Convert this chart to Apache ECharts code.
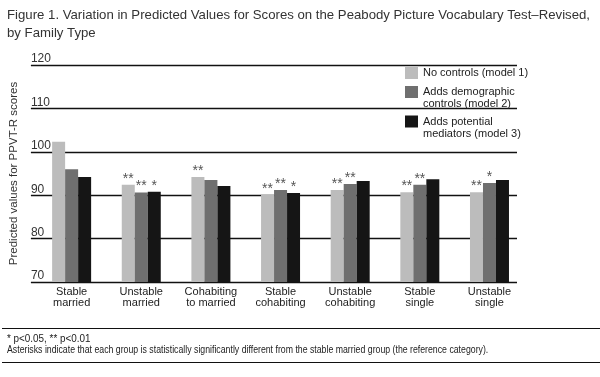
<!DOCTYPE html>
<html>
<head>
<meta charset="utf-8">
<script src="https://cdn.jsdelivr.net/npm/echarts@6/dist/echarts.min.js"></script>
<style>
  html, body { margin: 0; padding: 0; background: #fff; }
  #chart { width: 600px; height: 377px; }
</style>
</head>
<body>
<div id="chart"></div>
<script>
var categories = ['Stable\nmarried', 'Unstable\nmarried', 'Cohabiting\nto married', 'Stable\ncohabiting', 'Unstable\ncohabiting', 'Stable\nsingle', 'Unstable\nsingle']
var seriesNames = ['No controls (model 1)', 'Adds demographic\ncontrols (model 2)', 'Adds potential\nmediators (model 3)']
var model1 = [102.3, 92.4, 94.2, 90.1, 91.2, 90.7, 90.7]
var model2 = [96.0, 90.6, 93.5, 91.2, 92.6, 92.4, 92.8]
var model3 = [94.2, 90.8, 92.1, 90.5, 93.3, 93.7, 93.5]
// significance markers shown above each bar
var stars1 = ['', '**', '**', '**', '**', '**', '**']
var stars2 = ['', '**', '', '**', '**', '**', '*']
var stars3 = ['', '*', '', '*', '', '', '']
var yTicks = [70, 80, 90, 100, 110, 120]

var sans = "'Liberation Sans', Arial, sans-serif"
var colors = ['#bcbcbc', '#6f6f6f', '#151515']
var footNote = 'Asterisks indicate that each group is statistically significantly different from the stable married group (the reference category).'

var chart = echarts.init(document.getElementById('chart'), null, { renderer: 'canvas' })

function makeSeries(name, values, stars, color) {
  return {
    name: name,
    type: 'bar',
    xAxisIndex: 0,
    yAxisIndex: 0,
    barWidth: 13,
    barGap: '0%',
    itemStyle: { color: color },
    label: {
      show: true,
      position: 'top',
      distance: -1,
      color: '#555',
      fontSize: 14,
      fontFamily: sans,
      formatter: function(p) {
        return stars[p.dataIndex]
      }
    },
    data: values
  }
}

// one legend per entry so each can sit where the original puts it
function legendBox(name, top) {
  return {
    data: [name],
    left: 405,
    top: top,
    orient: 'vertical',
    itemWidth: 13,
    itemHeight: 12,
    itemGap: 0,
    padding: 0,
    icon: 'rect',
    formatter: function(n) {
      // blank first line keeps the swatch level with the first text line
      return n.indexOf('\n') >= 0 ? ' \n' + n : n
    },
    textStyle: {
      fontFamily: sans,
      fontSize: 11,
      color: '#222',
      lineHeight: 12
    }
  }
}

chart.setOption({
  animation: false,
  color: colors,
  title: {
    text: 'Figure 1. Variation in Predicted Values for Scores on the Peabody Picture Vocabulary Test\u2013Revised,\nby Family Type',
    left: 7,
    top: 6,
    padding: 0,
    textStyle: {
      fontFamily: sans,
      fontSize: 13.2,
      fontWeight: 'normal',
      color: '#333',
      lineHeight: 18
    }
  },
  legend: [
    legendBox(seriesNames[0], 67),
    legendBox(seriesNames[1], 74),
    legendBox(seriesNames[2], 103.5)
  ],
  grid: [
    { left: 36.8, width: 487.5, top: 65, height: 217 },
    { left: 30, width: 487, top: 65, height: 217 }
  ],
  xAxis: [{
    type: 'category',
    gridIndex: 0,
    data: categories,
    axisLine: { show: false },
    axisTick: { show: false },
    axisLabel: {
      interval: 0,
      margin: 4,
      fontFamily: sans,
      fontSize: 11,
      lineHeight: 11,
      color: '#222'
    }
  }, {
    type: 'category',
    gridIndex: 1,
    data: categories,
    show: false
  }],
  yAxis: [{
    type: 'value',
    gridIndex: 0,
    min: 70,
    max: 120,
    interval: 10,
    show: false
  }, {
    type: 'value',
    gridIndex: 1,
    min: yTicks[0],
    max: yTicks[yTicks.length - 1],
    interval: 10,
    name: 'Predicted values for PPVT-R scores',
    nameLocation: 'middle',
    nameGap: 10,
    nameTextStyle: {
      fontFamily: sans,
      fontSize: 11.5,
      color: '#333'
    },
    axisLine: { show: false },
    axisTick: { show: false },
    axisLabel: {
      inside: true,
      margin: 0,
      verticalAlign: 'bottom',
      fontFamily: sans,
      fontSize: 12,
      color: '#333'
    },
    splitLine: { lineStyle: { color: '#111', width: 1.3 } }
  }],
  series: [
    makeSeries(seriesNames[0], model1, stars1, colors[0]),
    makeSeries(seriesNames[1], model2, stars2, colors[1]),
    makeSeries(seriesNames[2], model3, stars3, colors[2])
  ],
  graphic: [
    { type: 'line', shape: { x1: 2, y1: 328.5, x2: 600, y2: 328.5 }, style: { stroke: '#111', lineWidth: 1 } },
    { type: 'text', x: 7, y: 339, scaleX: 0.86, style: { text: '* p<0.05, ** p<0.01', font: '11.5px ' + sans, fill: '#222', verticalAlign: 'middle' } },
    { type: 'text', x: 7, y: 349.5, scaleX: 0.76, style: { text: footNote, font: '11.5px ' + sans, fill: '#222', verticalAlign: 'middle' } },
    { type: 'line', shape: { x1: 2, y1: 362.5, x2: 600, y2: 362.5 }, style: { stroke: '#111', lineWidth: 1 } }
  ]
})
</script>
</body>
</html>
